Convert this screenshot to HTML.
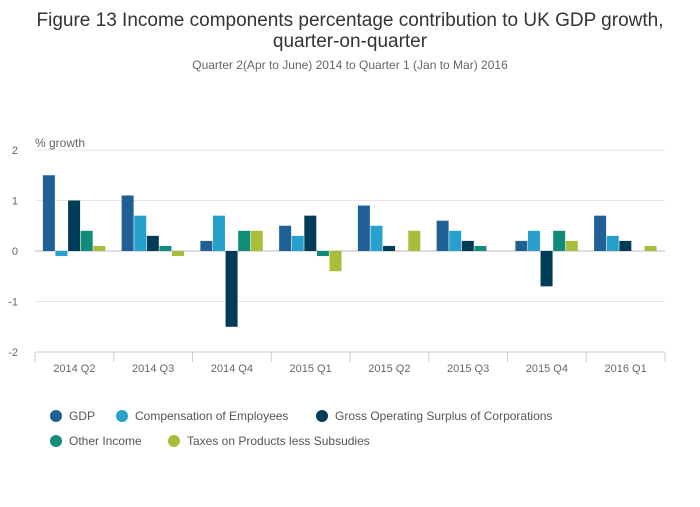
<!DOCTYPE html>
<html><head><meta charset="utf-8"><style>
body{margin:0;background:#fff;font-family:"Liberation Sans",sans-serif;}
svg text{font-family:"Liberation Sans",sans-serif;}
</style></head><body>
<svg id="chart" width="700" height="502">
<text x="350" y="26" text-anchor="middle" font-size="19" fill="#333">Figure 13 Income components percentage contribution to UK GDP growth,</text>
<text x="350" y="47" text-anchor="middle" font-size="19" fill="#333">quarter-on-quarter</text>
<text x="350" y="69" text-anchor="middle" font-size="12" fill="#666">Quarter 2(Apr to June) 2014 to Quarter 1 (Jan to Mar) 2016</text>
<text x="35" y="147" font-size="12" fill="#666">% growth</text>
<g id="grid"></g><g id="bars"></g><g id="xaxis"></g><g id="legend"></g>
</svg>
<script>
const categories=["2014 Q2","2014 Q3","2014 Q4","2015 Q1","2015 Q2","2015 Q3","2015 Q4","2016 Q1"];
const seriesNames=["GDP","Compensation of Employees","Gross Operating Surplus of Corporations","Other Income","Taxes on Products less Subsudies"];
const gdp=[1.5,1.1,0.2,0.5,0.9,0.6,0.2,0.7];
const coe=[-0.1,0.7,0.7,0.3,0.5,0.4,0.4,0.3];
const gos=[1.0,0.3,-1.5,0.7,0.1,0.2,-0.7,0.2];
const other=[0.4,0.1,0.4,-0.1,0,0.1,0.4,0];
const taxes=[0.1,-0.1,0.4,-0.4,0.4,0,0.2,0.1];
const yTicks=[2,1,0,-1,-2];
const colors=["#206095","#27a0cc","#003c57","#118c7b","#a8bd3a"];
const series=[gdp,coe,gos,other,taxes];
const NS="http://www.w3.org/2000/svg";
const L=35,R=665,T=150,B=352;
const y=v=>T+(2-v)*(B-T)/4;
const bw=(R-L)/categories.length;
const x=i=>L+i*bw;
function mk(tag,attrs,parent){const e=document.createElementNS(NS,tag);for(const k in attrs)e.setAttribute(k,attrs[k]);parent.appendChild(e);return e;}
const grid=document.getElementById('grid');
yTicks.forEach(t=>{
 const l=mk('line',{x1:L,x2:R,y1:y(t),y2:y(t),stroke:t===0?'#bbb':'#e6e6e6'},grid);
 
 
 const tx=mk('text',{x:18,y:y(t)+4,'font-size':11,fill:'#666','text-anchor':'end'},grid);
 tx.textContent=t;
 
 
});
const bars=document.getElementById('bars');
const barW=12.6,pad=(bw-barW*5)/2;
series.forEach((s,si)=>{
 s.forEach((v,i)=>{
  const r=mk('rect',{x:x(i)+pad+si*barW,y:Math.min(y(v),y(0)),width:barW-0.6,height:Math.abs(y(v)-y(0)),fill:colors[si]},bars);
  
  
 });
});
const xa=document.getElementById('xaxis');
mk('line',{x1:L,x2:R,y1:B,y2:B,stroke:'#ccc'},xa);
categories.forEach((c,i)=>{
 mk('line',{x1:x(i),x2:x(i),y1:B,y2:B+10,stroke:'#ccc'},xa);
 const tx=mk('text',{x:x(i)+bw/2,y:B+20,'font-size':11,fill:'#666','text-anchor':'middle'},xa);
 tx.textContent=c;
 
 
});
mk('line',{x1:R,x2:R,y1:B,y2:B+10,stroke:'#ccc'},xa);
const lg=document.getElementById('legend');
const lpos=[[56,416],[122,416],[322,416],[56,441],[174,441]];
seriesNames.forEach((n,i)=>{
 const g=mk('g',{},lg);
 
 
 mk('circle',{cx:lpos[i][0],cy:lpos[i][1],r:6,fill:colors[i]},g);
 const t=mk('text',{x:lpos[i][0]+13,y:lpos[i][1]+4,'font-size':12,fill:'#555'},g);
 t.textContent=n;
});
</script>
</body></html>
